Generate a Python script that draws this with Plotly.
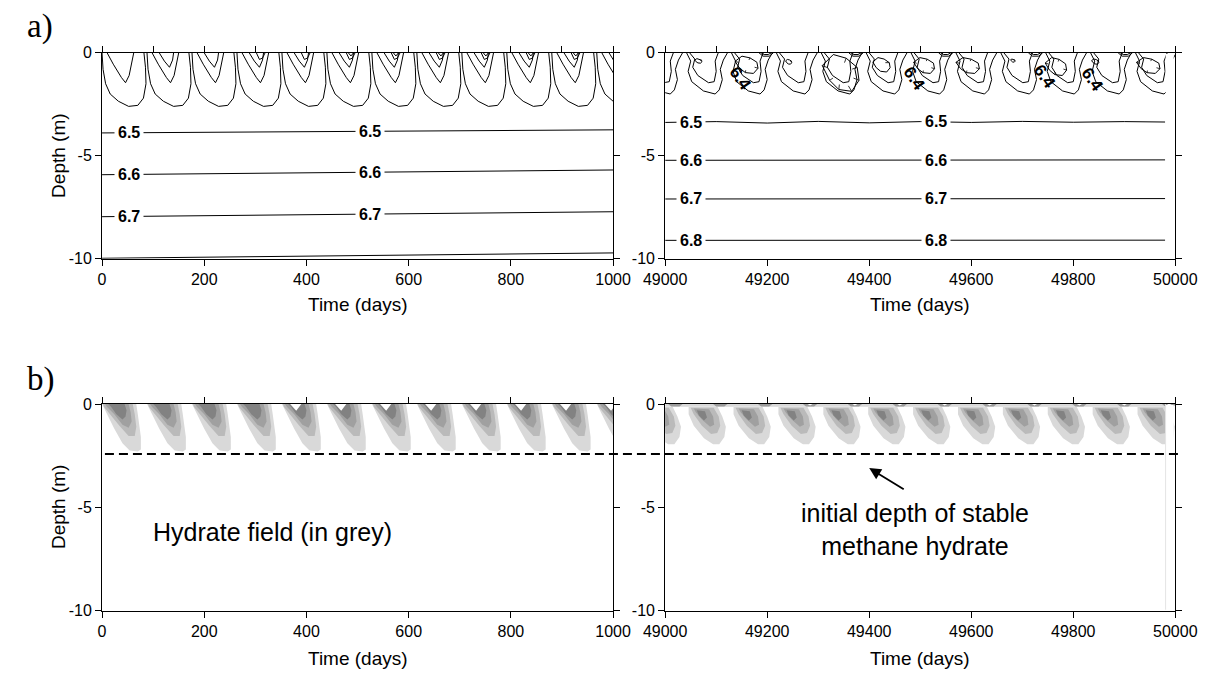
import numpy as np
import plotly.graph_objects as go

FONT = "Arial, 'Liberation Sans', sans-serif"
SERIF = "'Times New Roman', 'Liberation Serif', serif"
W, H = 1232, 691

# ---------------- axes / ticks ----------------
left_range = [0, 1000]
right_range = [49000, 50000]
depth_range = [-10, 0]
left_time_ticks = [0, 200, 400, 600, 800, 1000]
right_time_ticks = [49000, 49200, 49400, 49600, 49800, 50000]
left_top_ticks_a = [0, 100, 200, 300, 400, 500, 600, 700, 800, 900, 1000]
right_top_ticks_a = [49000, 49100, 49200, 49300, 49400, 49500, 49600, 49700, 49800, 49900, 50000]
depth_ticks = [0, -5, -10]
depth_tick_text = ["0", "-5", "-10"]
right_data_end = 49980

# ---------------- cycles (start of each ~88 day surface cycle) ----------------
left_cycle_start = [0, 88, 176, 264, 352, 440, 528, 616, 704, 792, 880, 968]
right_cycle_start = [48962, 49050, 49138, 49226, 49314, 49402, 49490, 49578, 49666, 49754, 49842, 49930]

# ---------------- panel a) left : temperature isolines ----------------
left_levels = ["6.5", "6.6", "6.7", "6.8"]
left_level_z_start = [-3.89, -5.92, -7.96, -9.98]
left_level_z_end = [-3.74, -5.69, -7.72, -9.72]
left_level_labelled = [True, True, True, False]
left_label_times = [52, 525]

# one cycle of near-surface isolines (offset days, depth m)
tl_outer_dt = [0, 2, 7, 16, 32, 52, 70, 81, 86, 85, 82]
tl_outer_z = [0, -0.8, -1.5, -2.0, -2.35, -2.6, -2.55, -2.2, -1.5, -0.7, 0]
tl_mid_dt = [10, 22, 38, 46, 53, 58, 62]
tl_mid_z = [0, -0.55, -1.2, -1.45, -1.1, -0.5, 0]
tl_inner_dt = [24, 34, 44, 50, 52]
tl_inner_z = [0, -0.4, -0.7, -0.35, 0]
tl_top1_dt = [38, 44, 50, 55]
tl_top1_z = [0, -0.32, -0.25, 0]
tl_top2_dt = [42, 47, 52]
tl_top2_z = [0, -0.15, 0]

# ---------------- panel a) right ----------------
right_65_t = [49000, 49100, 49200, 49300, 49400, 49500, 49600, 49700, 49800, 49900, 49980]
right_65_z = [-3.38, -3.34, -3.41, -3.33, -3.4, -3.34, -3.38, -3.33, -3.37, -3.34, -3.36]
right_levels = ["6.6", "6.7", "6.8"]
right_level_z_start = [-5.22, -7.1, -9.11]
right_level_z_end = [-5.2, -7.08, -9.1]
right_label_times = [49050, 49530]

tr_outer_dt = [-8, 0, -5, 2, 25, 48, 56, 62, 58, 64, 72]
tr_outer_z = [0, -0.4, -0.9, -1.4, -1.85, -2.0, -1.8, -1.3, -0.8, -0.35, 0]
tr_mid_dt = [-2, 8, 4, 14, 35, 46, 50, 48, 54]
tr_mid_z = [0, -0.3, -0.7, -1.1, -1.45, -1.4, -0.9, -0.4, 0]
tr_top1_dt = [46, 54, 66, 74]
tr_top1_z = [0, -0.16, -0.16, 0]
tr_top2_dt = [50, 56, 64, 70]
tr_top2_z = [0, -0.08, -0.08, 0]

# closed 6.4 pockets: left/right time, top/bottom depth
loop_t0 = [49058, 49137, 49236, 49308, 49407, 49487, 49570, 49677, 49745, 49836, 49924]
loop_t1 = [49072, 49182, 49248, 49380, 49441, 49528, 49616, 49686, 49787, 49850, 49970]
loop_ztop = [-0.28, -0.16, -0.32, -0.08, -0.23, -0.23, -0.23, -0.3, -0.23, -0.3, -0.23]
loop_zbot = [-0.5, -1.0, -0.55, -1.87, -0.93, -1.0, -1.0, -0.45, -1.1, -0.55, -1.0]
loop_u = [0.3, 0.65, 0.95, 1.0, 0.8, 0.45, 0.2, 0.0, 0.3]
loop_v = [0.0, 0.1, 0.35, 0.7, 1.0, 0.95, 0.7, 0.3, 0.0]
label64_t = [49147, 49488, 49743, 49837]
label64_z = [-1.25, -1.25, -1.17, -1.3]

# ---------------- panel b) hydrate field ----------------
grey_levels = ["#d9d9d9", "#bababa", "#a0a0a0", "#828282"]
bl_dt = [
    [0, 67, 70, 73, 76, 76, 70, 54, 40, 24, 10, 0],
    [2, 60, 64, 67, 64, 52, 34, 16, 4],
    [6, 52, 56, 58, 52, 40, 24, 10],
    [12, 44, 48, 46, 40, 28, 18],
]
bl_z = [
    [0, 0, -0.5, -1.0, -1.6, -2.2, -2.3, -2.25, -1.9, -1.2, -0.5, 0],
    [0, 0, -0.5, -1.1, -1.55, -1.55, -1.05, -0.5, -0.15],
    [0, 0, -0.4, -0.85, -1.15, -1.0, -0.5, -0.15],
    [0, 0, -0.3, -0.6, -0.75, -0.5, -0.15],
]
bl_notch_dt = [16, 38, 28]
bl_notch_z = [0, 0, -0.33]
bl_notch_first_cycle = 4

br_dt = [
    [-4, 53, 62, 69, 66, 56, 44, 26, 6, -4],
    [0, 45, 55, 58, 52, 40, 22, 6],
    [6, 36, 44, 46, 38, 22, 10],
    [12, 28, 32, 26, 16],
]
br_z = [
    [-0.15, -0.15, -0.6, -1.1, -1.6, -1.95, -1.95, -1.65, -1.05, -0.5],
    [-0.18, -0.18, -0.6, -1.05, -1.4, -1.45, -1.05, -0.5],
    [-0.22, -0.25, -0.6, -1.0, -1.1, -0.75, -0.4],
    [-0.3, -0.35, -0.65, -0.8, -0.55],
]
br_band_t = [49000, 49980, 49980, 49000]
br_band_z = [0, 0, -0.13, -0.13]
br_lens_dt = [44, 72, 66, 50]
br_lens_z = [0, 0, -0.12, -0.12]
br_notch_dt = [53, 63, 58]
br_notch_z = [0, 0, -0.07]

initial_stable_depth = -2.42


# ---------------- helpers ----------------
def tile(starts, dt, z):
    xs, ys = [], []
    for s in starts:
        xs += [s + d for d in dt] + [None]
        ys += list(z) + [None]
    return xs, ys


def line_trace(xs, ys, xa, ya, width=1):
    return go.Scatter(x=xs, y=ys, mode="lines", line=dict(color="black", width=width),
                      xaxis=xa, yaxis=ya, hoverinfo="skip", showlegend=False)


def fill_trace(xs, ys, xa, ya, color):
    return go.Scatter(x=xs, y=ys, mode="lines", fill="toself", fillcolor=color,
                      line=dict(width=0, color=color), xaxis=xa, yaxis=ya,
                      hoverinfo="skip", showlegend=False)


fig = go.Figure()

# ---- a) left
for name, z0, z1 in zip(left_levels, left_level_z_start, left_level_z_end):
    fig.add_trace(line_trace(left_range, [z0, z1], "x", "y"))
for dt, z, first in [(tl_outer_dt, tl_outer_z, 0), (tl_mid_dt, tl_mid_z, 0),
                     (tl_inner_dt, tl_inner_z, 1), (tl_top1_dt, tl_top1_z, 3),
                     (tl_top2_dt, tl_top2_z, 5)]:
    xs, ys = tile(left_cycle_start[first:], dt, z)
    fig.add_trace(line_trace(xs, ys, "x5", "y"))

# ---- a) right
fig.add_trace(line_trace(right_65_t, right_65_z, "x2", "y2"))
for z0, z1 in zip(right_level_z_start, right_level_z_end):
    fig.add_trace(line_trace([right_range[0], right_data_end], [z0, z1], "x2", "y2"))
for dt, z in [(tr_outer_dt, tr_outer_z), (tr_mid_dt, tr_mid_z)]:
    xs, ys = tile(right_cycle_start, dt, z)
    fig.add_trace(line_trace(xs, ys, "x6", "y2"))
for dt, z in [(tr_top1_dt, tr_top1_z), (tr_top2_dt, tr_top2_z)]:
    xs, ys = tile(right_cycle_start[2::2], dt, z)
    fig.add_trace(line_trace(xs, ys, "x6", "y2"))
lx, ly, hx, hy = [], [], [], []
for t0, t1, za, zb in zip(loop_t0, loop_t1, loop_ztop, loop_zbot):
    px = [t0 + u * (t1 - t0) for u in loop_u]
    py = [za + v * (zb - za) for v in loop_v]
    lx += px + [None]
    ly += py + [None]
    cx, cy = (t0 + t1) / 2, (za + zb) / 2
    step = 1 if t1 - t0 >= 60 else 2
    if t1 - t0 >= 35:
        for i in range(1, len(px) - 1, step):
            hx += [px[i], px[i] + 0.3 * (cx - px[i]), None]
            hy += [py[i], py[i] + 0.3 * (cy - py[i]), None]
    else:
        hx += [px[2], px[2] + 0.5 * (cx - px[2]), None]
        hy += [py[2], py[2], None]
fig.add_trace(line_trace(lx, ly, "x6", "y2"))
fig.add_trace(line_trace(hx, hy, "x6", "y2", width=0.8))

# ---- b) left
for dt, z, c in zip(bl_dt, bl_z, grey_levels):
    xs, ys = tile(left_cycle_start, dt, z)
    fig.add_trace(fill_trace(xs, ys, "x3", "y3", c))
xs, ys = tile(left_cycle_start[bl_notch_first_cycle:], bl_notch_dt, bl_notch_z)
fig.add_trace(fill_trace(xs, ys, "x7", "y3", "white"))

# ---- b) right
for dt, z, c in zip(br_dt, br_z, grey_levels):
    xs, ys = tile(right_cycle_start, dt, z)
    fig.add_trace(fill_trace(xs, ys, "x4", "y4", c))
fig.add_trace(fill_trace(br_band_t, br_band_z, "x8", "y4", grey_levels[0]))
xs, ys = tile(right_cycle_start, br_lens_dt, br_lens_z)
fig.add_trace(fill_trace(xs, ys, "x8", "y4", "#9c9c9c"))
xs, ys = tile(right_cycle_start[3:], br_notch_dt, br_notch_z)
fig.add_trace(fill_trace(xs, ys, "x8", "y4", "white"))

# ---------------- layout ----------------
dom_xl = [83 / W, 613 / W]
dom_xr = [667 / W, 1196 / W]
dom_yt = [1 - 257 / H, 1 - 46 / H]
dom_yb = [1 - 618 / H, 1 - 406 / H]


def xaxis(domain, anchor, rng, ticks, labels=True, overlay=None):
    d = dict(domain=domain, anchor=anchor, range=rng, tickvals=ticks, ticks="outside",
             ticklen=6, tickwidth=1, tickcolor="black", showline=True, linecolor="black",
             linewidth=1, showgrid=False, zeroline=False, showticklabels=labels,
             tickformat="d", tickfont=dict(size=16, family=FONT, color="black"),
             fixedrange=True)
    if overlay:
        d.update(overlaying=overlay, side="top")
    return d


def yaxis(domain, anchor):
    return dict(domain=domain, anchor=anchor, range=depth_range, tickvals=depth_ticks,
                ticktext=depth_tick_text, ticks="outside", ticklen=6, tickwidth=1,
                tickcolor="black", showline=True, linecolor="black", linewidth=1,
                mirror="ticks", showgrid=False, zeroline=False,
                tickfont=dict(size=16, family=FONT, color="black"), fixedrange=True)


fig.update_layout(
    width=W, height=H, margin=dict(l=0, r=0, t=0, b=0),
    paper_bgcolor="white", plot_bgcolor="white", showlegend=False,
    font=dict(family=FONT, color="black"),
    xaxis=xaxis(dom_xl, "y", left_range, left_time_ticks),
    xaxis2=xaxis(dom_xr, "y2", right_range, right_time_ticks),
    xaxis3=xaxis(dom_xl, "y3", left_range, left_time_ticks),
    xaxis4=xaxis(dom_xr, "y4", right_range, right_time_ticks),
    xaxis5=xaxis(dom_xl, "y", left_range, left_top_ticks_a, False, "x"),
    xaxis6=xaxis(dom_xr, "y2", right_range, right_top_ticks_a, False, "x2"),
    xaxis7=xaxis(dom_xl, "y3", left_range, left_time_ticks, False, "x3"),
    xaxis8=xaxis(dom_xr, "y4", right_range, right_time_ticks, False, "x4"),
    yaxis=yaxis(dom_yt, "x"),
    yaxis2=yaxis(dom_yt, "x2"),
    yaxis3=yaxis(dom_yb, "x3"),
    yaxis4=yaxis(dom_yb, "x4"),
)

shapes = []
for xa, ya in [("x2", "y2"), ("x4", "y4")]:
    shapes.append(dict(type="rect", xref=xa, yref=ya, x0=right_data_end + 1, x1=49997,
                       y0=-9.95, y1=-0.05, fillcolor="white", line=dict(width=0), layer="above"))
shapes.append(dict(type="line", xref="x4", yref="y4", x0=right_data_end + 1, x1=right_data_end + 1,
                   y0=-9.95, y1=0, line=dict(color="#e4e4e4", width=1), layer="above"))
shapes.append(dict(type="line", xref="paper", yref="y3", x0=86 / W, x1=1199 / W,
                   y0=initial_stable_depth, y1=initial_stable_depth,
                   line=dict(color="black", width=2, dash="9px,5px"), layer="above"))
fig.update_layout(shapes=shapes)

ann = []
lab_font = dict(size=16, family=FONT, color="black")
for name, z0, z1, lab in zip(left_levels, left_level_z_start, left_level_z_end, left_level_labelled):
    if not lab:
        continue
    for t in left_label_times:
        z = float(np.interp(t, left_range, [z0, z1]))
        ann.append(dict(x=t, y=z, xref="x", yref="y", text=f"<b>{name}</b>", showarrow=False,
                        font=lab_font, bgcolor="white", borderpad=3))
for t in right_label_times:
    z = float(np.interp(t, right_65_t, right_65_z))
    ann.append(dict(x=t, y=z, xref="x2", yref="y2", text="<b>6.5</b>", showarrow=False,
                    font=lab_font, bgcolor="white", borderpad=3))
for name, z0, z1 in zip(right_levels, right_level_z_start, right_level_z_end):
    for t in right_label_times:
        z = float(np.interp(t, [right_range[0], right_data_end], [z0, z1]))
        ann.append(dict(x=t, y=z, xref="x2", yref="y2", text=f"<b>{name}</b>", showarrow=False,
                        font=lab_font, bgcolor="white", borderpad=3))
for t, z in zip(label64_t, label64_z):
    ann.append(dict(x=t, y=z, xref="x2", yref="y2", text="<b>6.4</b>", showarrow=False,
                    font=dict(size=17, family=FONT, color="black"), textangle=55))

title_font = dict(size=19, family=FONT, color="black")
for cx, cy in [(348, 304), (931, 304), (348, 667), (931, 667)]:
    ann.append(dict(x=cx / W, y=1 - cy / H, xref="paper", yref="paper", text="Time (days)",
                    showarrow=False, font=title_font, xanchor="center", yanchor="middle"))
for cy in [152, 512]:
    ann.append(dict(x=38 / W, y=1 - cy / H, xref="paper", yref="paper", text="Depth (m)",
                    showarrow=False, font=dict(size=19, family=FONT, color="black"),
                    textangle=-90, xanchor="center", yanchor="middle"))
for txt, cy in [("a)", 19), ("b)", 381)]:
    ann.append(dict(x=3 / W, y=1 - cy / H, xref="paper", yref="paper", text=txt,
                    showarrow=False, font=dict(size=33, family=SERIF, color="black"),
                    xanchor="left", yanchor="middle"))
ann.append(dict(x=333, y=-6.2, xref="x3", yref="y3", text="Hydrate field (in grey)",
                showarrow=False, font=dict(size=25, family=FONT, color="black")))
ann.append(dict(x=49490, y=-6.05, xref="x4", yref="y4",
                text="initial depth of stable<br>methane hydrate", showarrow=False,
                font=dict(size=25, family=FONT, color="black")))
ann.append(dict(x=49400, y=-3.1, xref="x4", yref="y4", text="", showarrow=True,
                ax=36, ay=22, arrowhead=2, arrowsize=1.3, arrowwidth=1.8, arrowcolor="black"))
fig.update_layout(annotations=ann)

fig.write_html("out.html")
